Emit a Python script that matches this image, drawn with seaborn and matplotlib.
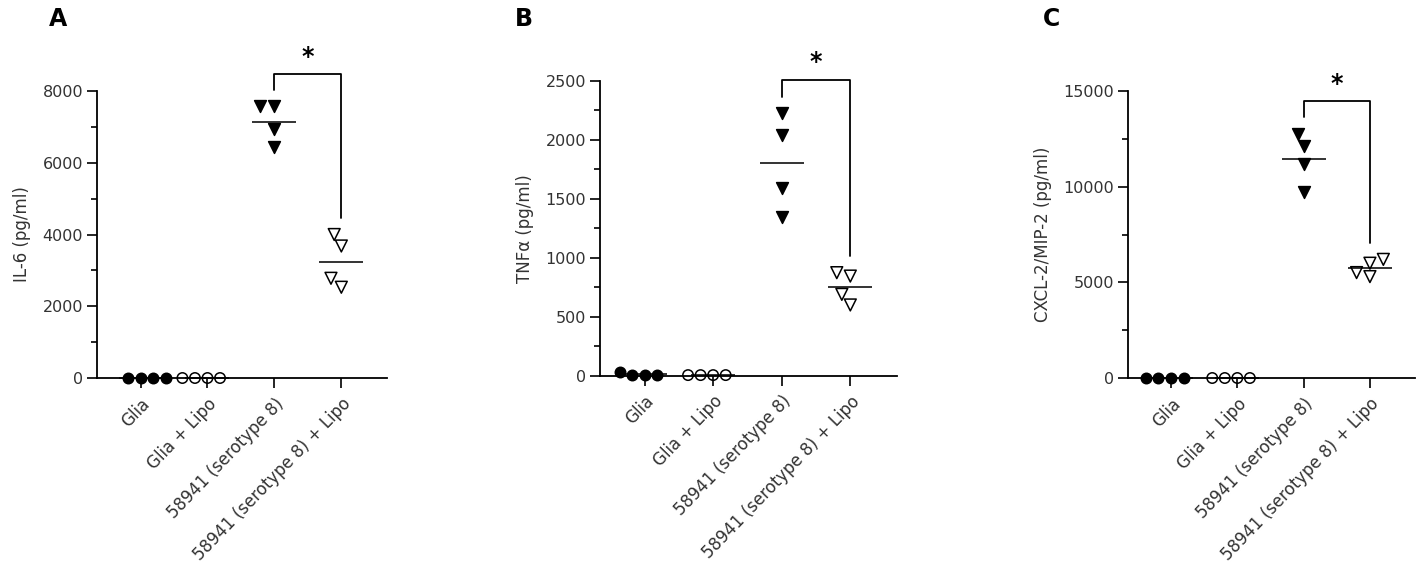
import numpy as np
import pandas as pd
import seaborn as sns
import matplotlib.pyplot as plt
from matplotlib.ticker import MultipleLocator, AutoMinorLocator

groups = ["Glia", "Glia + Lipo", "58941 (serotype 8)", "58941 (serotype 8) + Lipo"]

# 4 replicates per group
il6_values = [0, 0, 0, 0,
              0, 0, 0, 0,
              7570, 7570, 6950, 6440,
              4000, 3680, 2530, 2780]
tnf_values = [6, 35, 5, 6,
              5, 5, 5, 5,
              2226, 2042, 1595, 1349,
              845, 874, 690, 600]
cxcl2_values = [0, 0, 0, 0,
                0, 0, 0, 0,
                12770, 12130, 11175, 9730,
                6200, 6000, 5300, 5510]

panel_letters = ["A", "B", "C"]
ylabels = ["IL-6 (pg/ml)", "TNF\u03b1 (pg/ml)", "CXCL-2/MIP-2 (pg/ml)"]
ymaxes = [8000, 2500, 15000]
ysteps = [2000, 500, 5000]

markers = ["o", "o", "v", "v"]
marker_sizes = [7.5, 7.5, 8.5, 8.5]
open_face = [False, True, False, True]

sns.set_style("ticks")
plt.rcParams["font.family"] = ["DejaVu Sans"]

fig = plt.figure(figsize=(14.17, 5.82), dpi=100)
ax_pos = [[0.0685, 0.3505, 0.2045, 0.4931],
          [0.4234, 0.3545, 0.2096, 0.5063],
          [0.7960, 0.3505, 0.2026, 0.4931]]
letter_x = [0.0346, 0.3634, 0.7360]

for k, vals in enumerate([il6_values, tnf_values, cxcl2_values]):
    ax = fig.add_axes(ax_pos[k])
    df = pd.DataFrame({"group": np.repeat(groups, 4), "value": vals})

    for i, g in enumerate(groups):
        n_before = len(ax.collections)
        sns.swarmplot(data=df[df.group == g], x="group", y="value", order=groups,
                      marker=markers[i], size=marker_sizes[i], color="black",
                      edgecolor="black", linewidth=1.1, ax=ax)
        for coll in list(ax.collections[n_before:]):
            if len(coll.get_offsets()) == 0:
                coll.remove()
                continue
            if open_face[i]:
                coll.set_facecolor("none")
            coll.set_clip_on(False)
            coll.set_zorder(3)

    # group means as short horizontal lines
    sns.pointplot(data=df, x="group", y="value", order=groups, errorbar=None,
                  color="#333333", marker="_", markersize=31, markeredgewidth=1.4,
                  linestyle="none", ax=ax)
    for ln in ax.lines:
        ln.set_clip_on(False)

    ymax = ymaxes[k]
    ax.set_xlim(-0.65, 3.68)
    ax.set_ylim(0, ymax)
    ax.yaxis.set_major_locator(MultipleLocator(ysteps[k]))
    ax.yaxis.set_minor_locator(AutoMinorLocator(2))
    sns.despine(ax=ax)
    for sp in ["left", "bottom"]:
        ax.spines[sp].set_linewidth(1.3)
        ax.spines[sp].set_color("black")

    ax.tick_params(axis="both", which="major", length=7, width=1.2, color="black",
                   labelsize=11.5, labelcolor="#333333", pad=3)
    ax.tick_params(axis="x", which="major", pad=5)
    ax.tick_params(axis="y", which="minor", length=4, width=1.2, color="black")
    ax.set_xticks(range(len(groups)))
    ax.set_xticklabels(groups, rotation=46, ha="right", rotation_mode="anchor",
                       fontsize=12, color="#333333")
    ax.set_xlabel("")
    ax.set_ylabel(ylabels[k], fontsize=12, color="#333333", labelpad=8)

    # significance bracket between the two serotype-8 groups
    gap = 0.057 * ymax
    y3 = df[df.group == groups[2]].value.max()
    y4 = df[df.group == groups[3]].value.max()
    top = y3 + 2 * gap
    ax.plot([2, 2, 3, 3], [y3 + gap, top, top, y4 + gap], color="black", lw=1.3,
            clip_on=False)
    ax.text(2.5, top + 1.05 * gap, "*", ha="center", va="center", fontsize=17,
            fontweight="bold", color="black", clip_on=False)

    fig.text(letter_x[k], 0.988, panel_letters[k], fontsize=17, fontweight="bold",
             color="black", va="top", ha="left")

fig.savefig("out.png", dpi=100)
